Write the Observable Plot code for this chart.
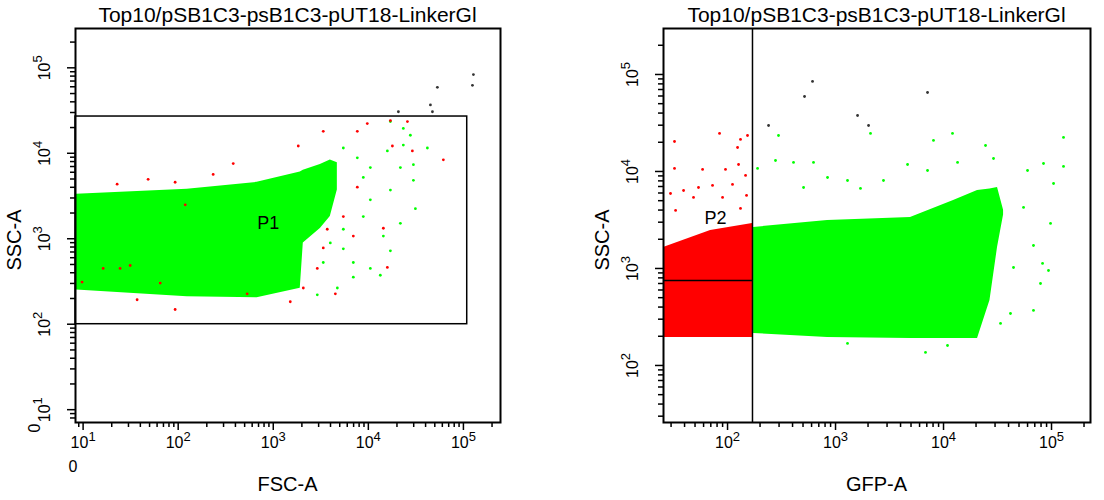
<!DOCTYPE html>
<html><head><meta charset="utf-8">
<script src="https://cdn.jsdelivr.net/npm/d3@7"></script>
<script src="https://cdn.jsdelivr.net/npm/@observablehq/plot@0.6"></script>
<style>
body{margin:0;background:#fff;font-family:"Liberation Sans",Arial,sans-serif;}
#wrap{display:flex;width:1104px;height:500px;}
</style></head><body><div id="wrap"></div>
<script>
// All values stored as log10 exponents
const title = "Top10/pSB1C3-psB1C3-pUT18-LinkerGl";
// Left plot (FSC-A vs SSC-A): dense green cloud outline
const p1CloudX  = [0.93,2.095,2.83,3.284,3.316,3.495,3.6,3.674];
const p1CloudLo = [2.40,2.32,2.31,2.42,2.95,3.12,3.26,3.57];
const p1CloudHi = [3.52,3.58,3.66,3.78,3.80,3.87,3.92,3.89];
const p1GreenX = [3.737,3.884,4.021,4.2,4.368,4.621,4.474,4.232,4.021,3.947,4.337,4.495,4.158,4.232,3.842,4.021,3.842,4.126,3.674,3.463,4.442,4.232,4.368,3.947,3.737,3.6,3.526,3.737,4.337,4.474];
const p1GreenY = [4.062,3.947,3.833,4.027,4.096,4.062,3.867,3.569,3.455,3.26,3.18,3.352,3.031,2.859,2.722,2.653,2.55,2.573,2.424,2.344,4.211,4.371,4.291,3.718,3.111,2.951,2.722,2.882,3.833,3.684];
const p1RedX = [3.884,3.989,3.526,3.263,2.579,2.368,1.358,1.684,1.968,2.074,4.789,4.2,4.158,3.568,3.526,3.463,3.316,3.653,3.179,1.211,1.389,1.495,0.989,1.811,1.568,1.968,2.726,3.884,4.253,4.463,4.411,4.232,3.737,3.842];
const p1RedY = [4.257,4.348,4.257,4.085,3.879,3.753,3.638,3.695,3.661,3.397,3.924,2.664,3.123,3.111,2.893,2.653,2.424,2.355,2.263,2.653,2.653,2.687,2.493,2.481,2.286,2.172,2.355,3.604,4.085,4.027,4.371,4.383,3.26,3.031];
const p1GreyX = [4.316,4.674,4.653,4.726,5.095,5.105];
const p1GreyY = [4.486,4.486,4.566,4.772,4.795,4.921];
const p1Gate = {x2:5.04, y1:2.0, y2:4.43};
const p1Label = {x:2.947, y:3.18};
// Right plot (GFP-A vs SSC-A)
const p2RedCloudX  = [1.407,1.843,2.231];
const p2RedCloudLo = [2.289,2.289,2.289];
const p2RedCloudHi = [3.216,3.392,3.464];
const p2CloudX  = [2.241,2.926,3.694,4.093,4.315,4.43,4.5,4.556];
const p2CloudLo = [2.33,2.289,2.278,2.278,2.278,2.67,3.216,3.55];
const p2CloudHi = [3.423,3.495,3.526,3.701,3.804,3.82,3.835,3.6];
const p2GreenX = [2.472,3.324,3.907,4.083,4.389,5.111,5.111,4.926,4.463,4.13,3.667,2.611,2.444,2.278,2.796,5.019,4.991,4.917,4.972,4.833,4.898,4.62,4.833,4.528,3.833,4.037,3.111,4.741,4.778,4.648,2.926,3.111,3.444,2.704,3.231,3.852];
const p2GreenY = [4.371,4.392,4.32,4.392,4.268,4.351,4.052,4.082,4.134,4.093,4.072,4.093,4.113,4.031,4.093,3.876,3.464,3.052,2.979,3.237,2.845,2.536,2.567,2.433,2.134,2.206,2.227,3.629,4.01,3.01,3.938,3.907,3.907,3.835,3.825,4.01];
const p2RedX = [1.509,1.926,2.12,2.185,2.093,1.509,1.769,1.981,2.102,2.167,1.472,1.593,1.731,1.861,1.954,2.046,1.519,1.685,2.176,2.12];
const p2RedY = [4.309,4.392,4.33,4.371,4.247,4.031,4.021,4.021,4.072,3.959,3.773,3.804,3.835,3.856,3.732,3.866,3.598,3.732,3.753,3.619];
const p2GreyX = [2.787,2.713,3.852,3.204,3.306,2.38];
const p2GreyY = [4.928,4.773,4.814,4.577,4.474,4.474];
const p2GateX = 2.231, p2GateY = 2.876;
const p2Label = {x:1.889, y:3.515};

const pts = (xs, ys) => xs.map((x,i)=>({x:10**x, y:10**ys[i]}));
const band = (xs, lo, hi) => xs.map((x,i)=>({x:10**x, y1:10**lo[i], y2:10**hi[i]}));
function minor(e0, e1){const out=[];for(let d=Math.floor(e0);d<=Math.ceil(e1);d++)for(let k=2;k<=9;k++){const v=k*10**d;if(Math.log10(v)>=e0&&Math.log10(v)<=e1)out.push(v);}return out;}
function major(e0,e1){const out=[];for(let d=Math.ceil(e0);d<=Math.floor(e1);d++)out.push(10**d);return out;}
const fmt = v => "10^" + Math.round(Math.log10(v));

function makePlot(o){
  const marks = [
    ...o.bands.map(b=>Plot.areaY(b.data,{x:"x",y1:"y1",y2:"y2",fill:b.color})),
    ...o.dots.map(d=>Plot.dot(d.data,{x:"x",y:"y",r:1.4,fill:d.color,stroke:null})),
    ...o.extra,
    Plot.frame({stroke:"black", strokeWidth:2}),
    Plot.axisX({ticks:major(o.xd[0],o.xd[1]), tickFormat:fmt, tickSize:8, fontSize:16, tickPadding:6, label:null, strokeWidth:1.5}),
    Plot.axisX({ticks:minor(o.xd[0],o.xd[1]), tickFormat:()=> "", tickSize:5, label:null, strokeWidth:1.5}),
    Plot.axisY({ticks:major(o.yd[0],o.yd[1]), tickFormat:fmt, tickSize:8, fontSize:16, tickRotate:-90, tickPadding:18, label:null, strokeWidth:1.5}),
    Plot.axisY({ticks:minor(o.yd[0],o.yd[1]), tickFormat:()=> "", tickSize:5, label:null, strokeWidth:1.5}),
  ];
  const svg = Plot.plot({
    width:552, height:500,
    marginLeft:o.ml, marginRight:o.mr, marginTop:28, marginBottom:78,
    x:{type:"log", domain:[10**o.xd[0],10**o.xd[1]]},
    y:{type:"log", domain:[10**o.yd[0],10**o.yd[1]]},
    style:{fontFamily:"Liberation Sans, Arial, sans-serif", fontSize:"16px", color:"black", overflow:"visible"},
    marks
  });
  const ns="http://www.w3.org/2000/svg";
  svg.querySelectorAll("text").forEach(t=>{
    const m=/^10\^(\d)$/.exec(t.textContent.trim());
    if(m){t.textContent="10";const s=document.createElementNS(ns,"tspan");s.setAttribute("dy","-0.55em");s.setAttribute("font-size","13");s.textContent=m[1];t.appendChild(s);}
  });
  const add=(txt,x,y,size,rot,anchor="middle")=>{const t=document.createElementNS(ns,"text");t.textContent=txt;t.setAttribute("x",x);t.setAttribute("y",y);t.setAttribute("font-size",size);t.setAttribute("text-anchor",anchor);t.setAttribute("fill","black");if(rot)t.setAttribute("transform",`rotate(${rot},${x},${y})`);svg.appendChild(t);};
  add(title, o.ml+(552-o.ml-o.mr)/2, 22, 21);
  add(o.xlabel, o.ml+(552-o.ml-o.mr)/2, 491, 20);
  add("SSC-A", o.ml-54, 240, 20, -90);
  (o.texts||[]).forEach(t=>add(...t));
  return svg;
}

const left = makePlot({
  ml:75, mr:52, xd:[0.92,5.39], yd:[0.85,5.46], xlabel:"FSC-A",
  bands:[{data:band(p1CloudX,p1CloudLo,p1CloudHi), color:"#00ff00"}],
  dots:[{data:pts(p1GreenX,p1GreenY),color:"#00ff00"},{data:pts(p1RedX,p1RedY),color:"#ff0000"},{data:pts(p1GreyX,p1GreyY),color:"#333"}],
  extra:[
    Plot.rect([{x1:10**0.92, x2:10**p1Gate.x2, y1:10**p1Gate.y1, y2:10**p1Gate.y2}],{x1:"x1",x2:"x2",y1:"y1",y2:"y2",fill:"none",stroke:"black",strokeWidth:1.5}),
    Plot.text([{x:10**p1Label.x,y:10**p1Label.y}],{x:"x",y:"y",text:()=> "P1",fontSize:18})
  ],
  texts:[["0",73,472,16],["0",40,428,16,-90]]
});
const right = makePlot({
  ml:111, mr:14, xd:[1.407,5.361], yd:[1.412,5.474], xlabel:"GFP-A",
  bands:[{data:band(p2RedCloudX,p2RedCloudLo,p2RedCloudHi), color:"#ff0000"},{data:band(p2CloudX,p2CloudLo,p2CloudHi), color:"#00ff00"}],
  dots:[{data:pts(p2GreenX,p2GreenY),color:"#00ff00"},{data:pts(p2RedX,p2RedY),color:"#ff0000"},{data:pts(p2GreyX,p2GreyY),color:"#333"}],
  extra:[
    Plot.ruleX([10**p2GateX],{stroke:"black",strokeWidth:1.5}),
    Plot.ruleY([10**p2GateY],{x1:10**1.407,x2:10**p2GateX,stroke:"black",strokeWidth:1.5}),
    Plot.text([{x:10**p2Label.x,y:10**p2Label.y}],{x:"x",y:"y",text:()=> "P2",fontSize:18})
  ]
});
document.getElementById("wrap").append(left, right);
</script></body></html>
